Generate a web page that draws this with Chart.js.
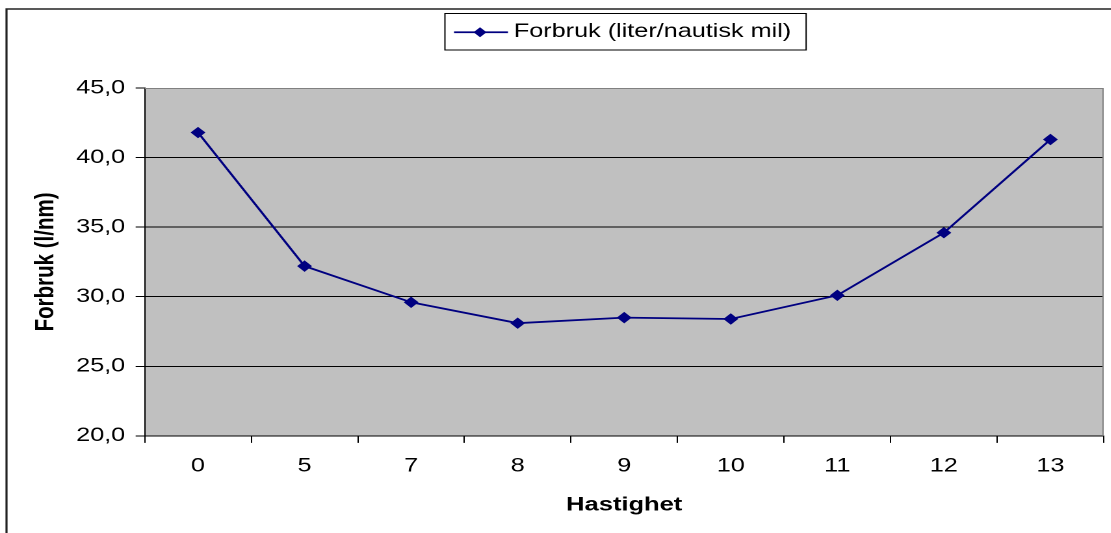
<!DOCTYPE html>
<html>
<head>
<meta charset="utf-8">
<script src="https://cdn.jsdelivr.net/npm/chart.js@4"></script>
<style>
  html, body { margin: 0; padding: 0; background: #fff; overflow: hidden; }
  /* the original picture is a bit wider than tall, so stretch the chart sideways */
  #wrap { position: absolute; left: 0; top: 0; width: 855px; height: 533px;
          transform: scaleX(1.3); transform-origin: 0 0; }
</style>
</head>
<body>
<div id="wrap"><canvas id="fuelChart"></canvas></div>
<script>
const speeds = ['0', '5', '7', '8', '9', '10', '11', '12', '13'];
const consumption = [41.8, 32.2, 29.6, 28.1, 28.5, 28.4, 30.1, 34.6, 41.3];
const yTicks = [20, 25, 30, 35, 40, 45];
const yTickLabels = ['20,0', '25,0', '30,0', '35,0', '40,0', '45,0'];
const seriesLabel = 'Forbruk (liter/nautisk mil)';

const FONT = 'Liberation Sans, Arial, sans-serif';
const NAVY = '#000080';

// frame, grey plot background and the boxed legend
const excelLook = {
  id: 'excelLook',
  beforeDraw(chart) {
    const { ctx, chartArea: a } = chart;
    ctx.save();
    ctx.fillStyle = '#fff';
    ctx.fillRect(0, 0, chart.width, chart.height);
    ctx.strokeStyle = '#222';
    ctx.lineWidth = 1.6;
    ctx.beginPath();
    ctx.moveTo(5, chart.height + 5);
    ctx.lineTo(5, 9);
    ctx.lineTo(chart.width + 5, 9);
    ctx.stroke();
    ctx.fillStyle = '#c0c0c0';
    ctx.fillRect(a.left, a.top, a.right - a.left, a.bottom - a.top);
    ctx.restore();
  },
  beforeDatasetsDraw(chart) {
    const { ctx, chartArea: a } = chart;
    ctx.save();
    ctx.strokeStyle = '#808080';
    ctx.lineWidth = 1;
    ctx.beginPath();
    ctx.moveTo(a.left, a.top + 0.5);
    ctx.lineTo(a.right - 0.5, a.top + 0.5);
    ctx.lineTo(a.right - 0.5, a.bottom);
    ctx.stroke();
    ctx.restore();
  },
  afterDraw(chart) {
    const { ctx, chartArea: a } = chart;
    const label = chart.data.datasets[0].label;
    ctx.save();
    ctx.font = '19.4px ' + FONT;
    const tw = ctx.measureText(label).width;
    const bw = 53 + tw + 11.5, bh = 36.5;
    const bx = (a.left + a.right) / 2 - bw / 2 + 1, by = 13.5;
    ctx.strokeStyle = '#000';
    ctx.lineWidth = 1;
    ctx.strokeRect(bx, by, bw, bh);
    const my = by + bh / 2 + 0.5;
    ctx.strokeStyle = NAVY;
    ctx.lineWidth = 1.8;
    ctx.beginPath();
    ctx.moveTo(bx + 7, my);
    ctx.lineTo(bx + 48.5, my);
    ctx.stroke();
    ctx.fillStyle = NAVY;
    ctx.beginPath();
    ctx.moveTo(bx + 27, my - 5);
    ctx.lineTo(bx + 32, my);
    ctx.lineTo(bx + 27, my + 5);
    ctx.lineTo(bx + 22, my);
    ctx.closePath();
    ctx.fill();
    ctx.fillStyle = '#000';
    ctx.textBaseline = 'middle';
    ctx.fillText(label, bx + 53, my - 0.5);
    ctx.restore();
  }
};

Chart.defaults.font.family = FONT;
Chart.defaults.color = '#000';

new Chart(document.getElementById('fuelChart'), {
  type: 'line',
  data: {
    labels: speeds,
    datasets: [{
      label: seriesLabel,
      data: consumption,
      borderColor: NAVY,
      borderWidth: 1.8,
      backgroundColor: NAVY,
      pointStyle: 'rectRot',
      pointRadius: 5,
      pointBorderWidth: 1,
      pointBackgroundColor: NAVY,
      pointBorderColor: NAVY,
      tension: 0
    }]
  },
  options: {
    responsive: true,
    maintainAspectRatio: false,
    devicePixelRatio: 2,
    animation: false,
    layout: { padding: { left: 10, top: 88, right: 5, bottom: 3 } },
    plugins: { legend: { display: false }, tooltip: { enabled: false } },
    scales: {
      x: {
        offset: true,
        grid: { offset: true, drawOnChartArea: false, drawTicks: true, tickLength: 7, tickColor: '#000' },
        border: { color: '#000', width: 1 },
        ticks: { font: { size: 19.4 }, padding: 11.4, maxRotation: 0 },
        title: { display: true, text: 'Hastighet', font: { size: 19.6, weight: 'bold' }, padding: { top: 4.5, bottom: 13 } }
      },
      y: {
        min: 20,
        max: 45,
        afterBuildTicks(scale) { scale.ticks = yTicks.map(v => ({ value: v })); },
        grid: {
          color: c => (c.tick && c.tick.value === 45 ? 'rgba(0,0,0,0)' : '#000'),
          tickColor: '#000',
          tickLength: 7,
          lineWidth: 1
        },
        border: { color: '#000', width: 1 },
        ticks: {
          font: { size: 19.4 },
          padding: 8,
          callback: (v) => yTickLabels[yTicks.indexOf(v)]
        },
        title: { display: true, text: 'Forbruk (l/nm)', font: { size: 20.5, weight: 'bold' }, padding: { top: 13.2, bottom: 2.8 } }
      }
    }
  },
  plugins: [excelLook]
});
</script>
</body>
</html>
